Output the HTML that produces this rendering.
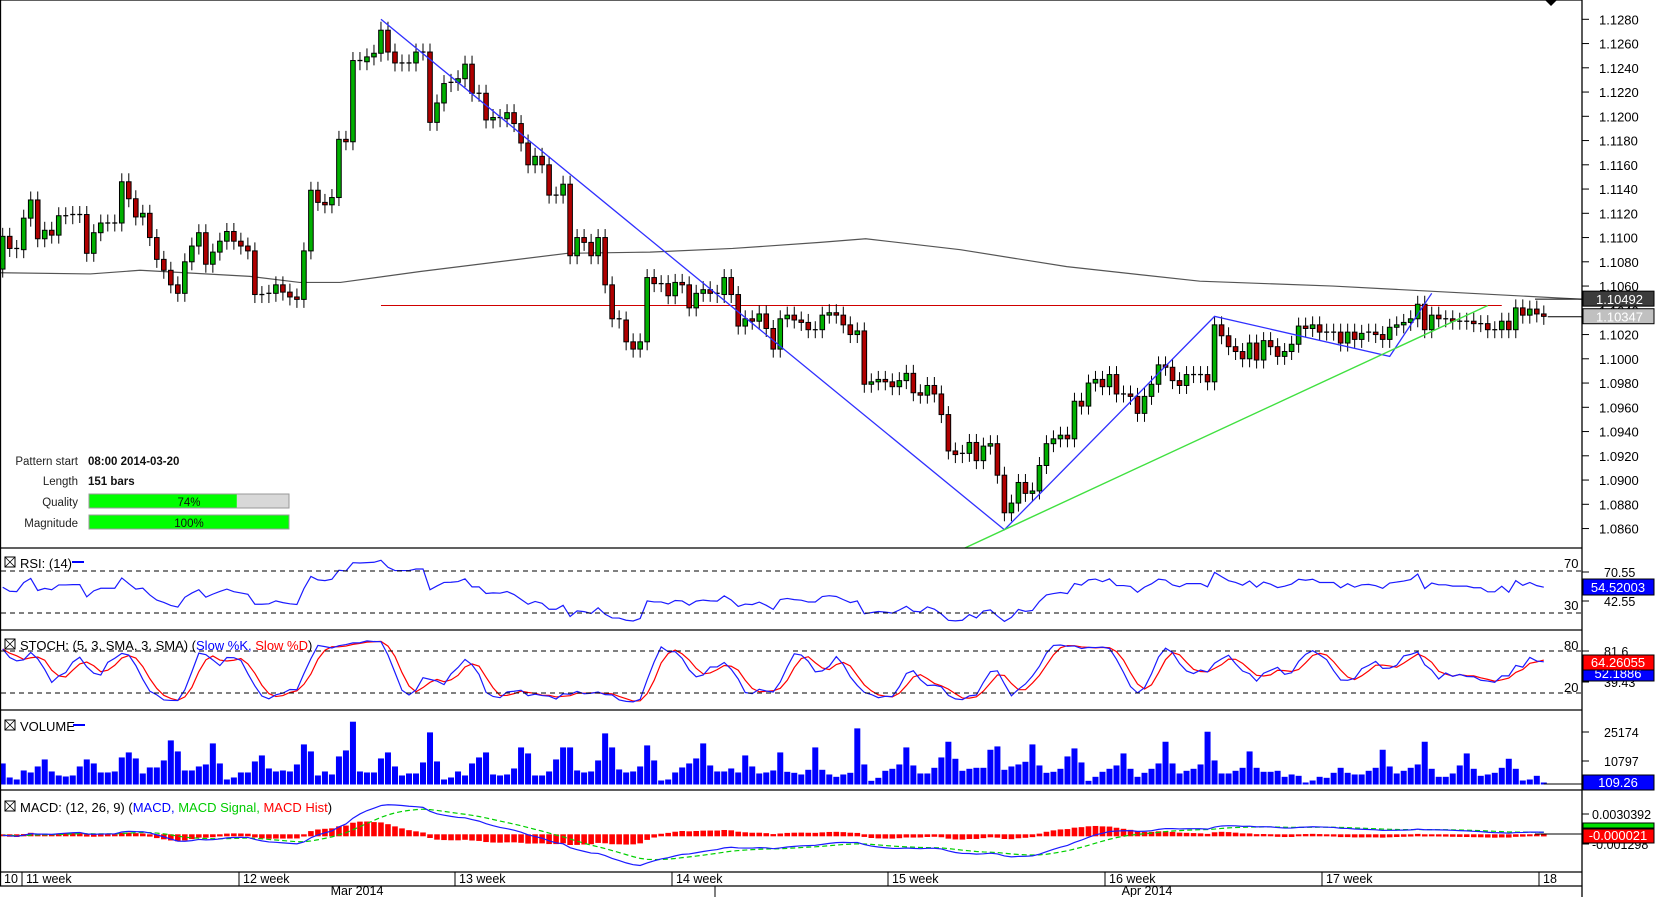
<!DOCTYPE html>
<html><head><meta charset="utf-8"><style>
html,body{margin:0;padding:0;background:#fff;}
svg{display:block;font-family:"Liberation Sans",Arial,sans-serif;}
</style></head><body>
<svg id="chart" width="1655" height="897" viewBox="0 0 1655 897" xmlns="http://www.w3.org/2000/svg">
<defs><clipPath id="mainClip"><rect x="1" y="1" width="1581" height="547"/></clipPath>
<clipPath id="plotClip"><rect x="1" y="0" width="1581" height="897"/></clipPath></defs>
<rect x="0" y="0" width="1655" height="897" fill="#fff"/>
<g id="main"></g>
<g id="ind"></g>
<g id="frame"></g>
</svg>
<script>
const closes=[1.1101,1.1091,1.1090,1.1116,1.1131,1.1099,1.1106,1.1102,1.1118,1.1118,
1.1119,1.1119,1.1087,1.1104,1.1112,1.1112,1.1112,1.1146,1.1132,1.1117,
1.1120,1.1100,1.1082,1.1073,1.1061,1.1054,1.1080,1.1093,1.1104,1.1078,
1.1088,1.1097,1.1105,1.1097,1.1093,1.1089,1.1053,1.1053,1.1054,1.1061,
1.1055,1.1051,1.1049,1.1089,1.1139,1.1129,1.1127,1.1133,1.1181,1.1179,
1.1246,1.1245,1.1249,1.1252,1.1271,1.1253,1.1244,1.1244,1.1244,1.1253,
1.1253,1.1195,1.1211,1.1227,1.1228,1.1231,1.1243,1.1219,1.1219,1.1197,
1.1199,1.1198,1.1203,1.1194,1.1178,1.1160,1.1167,1.1160,1.1135,1.1135,
1.1144,1.1085,1.1100,1.1096,1.1085,1.1100,1.1061,1.1033,1.1032,1.1014,
1.1008,1.1014,1.1067,1.1062,1.1062,1.1052,1.1063,1.1061,1.1042,1.1054,
1.1057,1.1054,1.1053,1.1067,1.1053,1.1027,1.1033,1.1031,1.1037,1.1025,
1.1008,1.1033,1.1036,1.1032,1.1030,1.1024,1.1024,1.1036,1.1038,1.1036,
1.1028,1.1020,1.1023,1.0979,1.0981,1.0983,1.0981,1.0977,1.0982,1.0988,
1.0972,1.0970,1.0978,1.0971,1.0954,1.0924,1.0921,1.0922,1.0931,1.0916,
1.0928,1.0930,1.0904,1.0873,1.0881,1.0898,1.0889,1.0891,1.0912,1.0930,
1.0934,1.0937,1.0934,1.0965,1.0961,1.0980,1.0983,1.0977,1.0987,1.0971,
1.0971,1.0969,1.0955,1.0969,1.0979,1.0995,1.0993,1.0982,1.0978,1.0987,
1.0987,1.0987,1.0981,1.1028,1.1019,1.1010,1.1006,1.1000,1.1013,1.0999,
1.1015,1.1010,1.1002,1.1006,1.1012,1.1027,1.1025,1.1028,1.1022,1.1022,
1.1022,1.1013,1.1022,1.1016,1.1021,1.1022,1.1020,1.1016,1.1026,1.1028,
1.1030,1.1033,1.1045,1.1024,1.1036,1.1033,1.1033,1.1031,1.1031,1.1031,
1.1029,1.1029,1.1024,1.1024,1.1031,1.1024,1.1042,1.1036,1.1041,1.1037,1.1035];
const firstOpen=1.1074;
const volumes=[10080,3360,2400,6720,5760,8640,12000,6240,4320,3840,
4320,8640,12000,10080,5760,5760,6240,12960,15360,12480,
5280,8160,8160,11520,21120,15840,6720,6720,8640,9600,
19680,10080,2400,3360,5760,5760,11040,13920,7680,6240,
6720,6240,9600,19200,15840,4320,6240,4800,13440,16320,
30080,6240,5760,5760,12480,15360,8640,4320,5280,5280,
10560,24960,11040,2400,3360,6240,4320,10080,12960,15360,
4800,4320,4800,7680,17760,14880,4320,4320,6240,12000,
17760,17760,6720,5760,6240,11520,24480,17760,7200,5760,
6240,8640,18720,11520,1920,2400,5760,8160,10080,12480,
19680,9120,6240,6240,7680,5760,13920,8640,5280,5760,
6720,15360,
6080,5600,4800,7040,17760,7040,4800,3680,4800,5600,
26880,9600,1760,3200,6560,7520,9600,17760,9120,5280,
5280,8000,12960,20480,12320,6560,7520,8000,8000,16640,
18240,7040,8640,9600,10880,19200,9120,5600,6080,7520,
13440,17280,10560,1760,3680,6080,7520,9120,14880,7520,
3680,5600,7520,10080,20480,10080,5280,6560,7520,9600,
25280,11520,5280,5280,6560,8000,15840,8000,6080,6080,
6560,3680,4800,4160,960,1920,3680,3200,5600,8000,
5600,4800,4800,6560,8000,16640,8640,5280,6560,8000,
9600,20480,7520,3680,3680,5280,9120,14880,7520,4160,
4800,5600,8000,12320,7520,1920,2400,4160,960];
const maIdx=[-1,12.5,19.6,35.3,42.4,48.2,59.6,80.6,92.4,104.2,116.7,123.2,136.7,151.9,170.9,189.9,226];
const maVal=[1.1071,1.1070,1.1073,1.1068,1.1063,1.1063,1.1072,1.1087,1.1088,1.1091,1.1096,1.1099,1.1090,1.1076,1.1064,1.1060,1.1049];
const zigIdx=[54,143,173,198,204];
const zigVal=[1.1280,1.0859,1.1035,1.1002,1.1054];
const trendIdx=[137,212];
const trendVal=[1.0843,1.1044];
const resistIdx=[54,214];
const resistVal=[1.1044,1.1044];
const priceTicks=[1.1280,1.1260,1.1240,1.1220,1.1200,1.1180,1.1160,1.1140,1.1120,1.1100,1.1080,1.1060,1.1040,1.1020,1.1000,1.0980,1.0960,1.0940,1.0920,1.0900,1.0880,1.0860];
const weekLabels=["10","11 week","12 week","13 week","14 week","15 week","16 week","17 week","18"];
const weekX=[0,22,239,455,672,888,1105,1322,1539];
const monthLabels=["Mar 2014","Apr 2014"];
const monthX=[357,1147];

const NS="http://www.w3.org/2000/svg";
function el(tag,attrs,parent,txt){const e=document.createElementNS(NS,tag);for(const k in attrs)e.setAttribute(k,attrs[k]);if(txt!==undefined)e.textContent=txt;parent.appendChild(e);return e;}
const X=i=>2.7+i*7.005;
const PY=p=>19.3+(1.1280-p)*12125;
const main=document.getElementById('main');
const ind=document.getElementById('ind');
const frame=document.getElementById('frame');
const mg=el('g',{'clip-path':'url(#mainClip)'},main);

priceTicks.forEach(p=>{const y=PY(p);
 const t=el('line',{x1:1582,x2:1589,y1:y,y2:y,stroke:'#000'},frame);
 
 
 const l=el('text',{x:1599,y:y+5,'font-size':13,fill:'#000'},frame,p.toFixed(4));
 
 
});

{let pts=maIdx.map((i,k)=>X(i)+','+PY(maVal[k])).join(' ');
 const m=el('polyline',{points:pts,fill:'none',stroke:'#555',"stroke-width":1.2},mg);
 
 }
{const r=el('line',{x1:X(resistIdx[0]),x2:X(resistIdx[1]),y1:PY(resistVal[0]),y2:PY(resistVal[1]),stroke:'#d00000','stroke-width':1},mg);
 
 }

const opens=[],highs=[],lows=[];
closes.forEach((c,i)=>{const o=i===0?firstOpen:closes[i-1];opens.push(o);highs.push(Math.max(o,c)+0.0007);lows.push(Math.min(o,c)-0.0007);});
closes.forEach((c,i)=>{const o=opens[i];const x=X(i);
 const g=el('g',{},mg);
 
 
 el('line',{x1:x,x2:x,y1:PY(highs[i]),y2:PY(lows[i]),stroke:'#000','stroke-width':1},g);
 const top=PY(Math.max(o,c)),bot=PY(Math.min(o,c));
 if(Math.abs(bot-top)<1.5){el('line',{x1:x-2.5,x2:x+2.5,y1:top,y2:top,stroke:'#000','stroke-width':1.3},g);}
 else el('rect',{x:x-2.3,y:top,width:4.6,height:bot-top,fill:c>=o?'#00b000':'#b00000',stroke:'#000','stroke-width':1},g);
});
{const pts=zigIdx.map((i,k)=>X(i)+','+PY(zigVal[k])).join(' ');
 const z=el('polyline',{points:pts,fill:'none',stroke:'#3030ff','stroke-width':1.3},mg);
 
 }
{const t=el('line',{x1:X(trendIdx[0]),x2:X(trendIdx[1]),y1:PY(trendVal[0]),y2:PY(trendVal[1]),stroke:'#40e040','stroke-width':1.4},mg);
 
 }
{const y1=PY(1.10492),y2=PY(1.10347);
 el('line',{x1:1535,x2:1582,y1:y1,y2:y1,stroke:'#000'},main);
 el('line',{x1:X(closes.length-1)+4,x2:1582,y1:y2,y2:y2,stroke:'#000'},main);
 const b1=el('g',{},frame);
 
 
 el('rect',{x:1583,y:y1-8,width:71,height:15,fill:'#3c3c3c',stroke:'#000'},b1);
 el('text',{x:1596,y:y1+5,'font-size':13,fill:'#fff'},b1,'1.10492');
 const b2=el('g',{},frame);
 
 
 el('rect',{x:1583,y:y2-8,width:71,height:15,fill:'#c0c0c0',stroke:'#000'},b2);
 el('text',{x:1596,y:y2+5,'font-size':13,fill:'#fff'},b2,'1.10347');}
{const m=el('polygon',{points:'1545,0 1557,0 1551,6',fill:'#000'},frame);
 
 }

{const g=el('g',{'font-size':11.5},main);
 
 
 const rows=[['Pattern start','08:00 2014-03-20',465],['Length','151 bars',485]];
 rows.forEach(r=>{el('text',{x:78,y:r[2],'text-anchor':'end',fill:'#222'},g,r[0]);el('text',{x:88,y:r[2],'font-weight':'bold',fill:'#111'},g,r[1]);});
 [['Quality',74,506],['Magnitude',100,527]].forEach(r=>{
  el('text',{x:78,y:r[2],'text-anchor':'end',fill:'#222'},g,r[0]);
  el('rect',{x:89,y:r[2]-12,width:200,height:14,fill:'#d8d8d8',stroke:'#999'},g);
  el('rect',{x:89.5,y:r[2]-11.5,width:199*r[1]/100,height:13,fill:'#00ff00'},g);
  el('text',{x:189,y:r[2],'text-anchor':'middle',fill:'#111'},g,r[1]+'%');
 });}

function titleBox(x,y,parent){el('rect',{x:x,y:y-10,width:10,height:10,fill:'none',stroke:'#000'},parent);el('path',{d:`M${x} ${y-10}L${x+10} ${y}M${x+10} ${y-10}L${x} ${y}`,stroke:'#000','stroke-width':0.8},parent);}
function dash(y,parent){el('line',{x1:1,x2:1582,y1:y,y2:y,stroke:'#000','stroke-dasharray':'5,4'},parent);}
const ig=el('g',{'clip-path':'url(#plotClip)'},ind);

// RSI (Wilder, seeded)
const rsi=[];{let ag=0.0006,al=0.0005;for(let i=0;i<closes.length;i++){const d=i?closes[i]-closes[i-1]:0;const g=Math.max(d,0),l=Math.max(-d,0);
 ag=(ag*13+g)/14;al=(al*13+l)/14;
 rsi.push(al===0?100:100-100/(1+ag/al));}}
const RY=v=>571+(70-v)*42/40;
dash(RY(70),ind);dash(RY(30),ind);
{const pts=rsi.map((v,i)=>X(i)+','+RY(v)).join(' ');
 const p=el('polyline',{points:pts,fill:'none',stroke:'#1a1aff','stroke-width':1.2},ig);
 
 }
{const g=el('g',{'font-size':13},ind);
 
 
 titleBox(5,567,g);el('text',{x:20,y:568},g,'RSI: (14)');el('line',{x1:72,x2:84,y1:562,y2:562,stroke:'#00f','stroke-width':2},g);
 el('text',{x:1564,y:568},g,'70');el('text',{x:1564,y:610},g,'30');}

const rawK=closes.map((c,i)=>{const s=Math.max(0,i-4);const hh=Math.max(...highs.slice(s,i+1)),ll=Math.min(...lows.slice(s,i+1));return 100*(c-ll)/(hh-ll);});
const sma=(a,n)=>a.map((v,i)=>{const s=a.slice(Math.max(0,i-n+1),i+1);return s.reduce((x,y)=>x+y,0)/s.length;});
const slowK=sma(rawK,3),slowD=sma(slowK,3);
const SY=v=>651+(80-v)*42/60;
dash(SY(80),ind);dash(SY(20),ind);
{const p1=el('polyline',{points:slowD.map((v,i)=>X(i)+','+SY(v)).join(' '),fill:'none',stroke:'#ff0000','stroke-width':1.2},ig);
 
 
 const p2=el('polyline',{points:slowK.map((v,i)=>X(i)+','+SY(v)).join(' '),fill:'none',stroke:'#1a1aff','stroke-width':1.2},ig);
 
 }
{const g=el('g',{'font-size':13},ind);
 
 
 titleBox(5,649,g);
 const t=el('text',{x:20,y:650},g);
 el('tspan',{},t,'STOCH: (5, 3, SMA, 3, SMA) (');el('tspan',{fill:'#0000ff'},t,'Slow %K, ');el('tspan',{fill:'#ff0000'},t,'Slow %D');el('tspan',{},t,')');
 el('text',{x:1564,y:650},g,'80');el('text',{x:1564,y:692},g,'20');}

const VY=v=>784.5-v/479;
volumes.slice(0,closes.length).forEach((v,i)=>{const r=el('rect',{x:X(i)-3,y:VY(v),width:6,height:784.5-VY(v),fill:'#0000ff'},ig);
 
 });
el('line',{x1:X(closes.length-1),x2:1582,y1:784,y2:784,stroke:'#000'},ind);
{const g=el('g',{'font-size':13},ind);
 
 
 titleBox(5,730,g);el('text',{x:20,y:731},g,'VOLUME');el('line',{x1:73,x2:85,y1:725,y2:725,stroke:'#00f','stroke-width':2},g);}

const ema=(a,n)=>{const k=2/(n+1);const o=[];a.forEach((v,i)=>o.push(i?v*k+o[i-1]*(1-k):v));return o;};
const e12=ema(closes,12),e26=ema(closes,26);
const macd=e12.map((v,i)=>v-e26[i]);
const signal=ema(macd,9);
const hist=macd.map((v,i)=>v-signal[i]);
const MY=v=>835.3-v*6687;
hist.forEach((h,i)=>{const y0=MY(0),y1=MY(h);const r=el('rect',{x:X(i)-2.8,y:Math.min(y0,y1)-1,width:5.6,height:Math.abs(y1-y0)+2,fill:'#ff0000'},ig);
 
 });
{const s=el('polyline',{points:signal.map((v,i)=>X(i)+','+MY(v)).join(' '),fill:'none',stroke:'#00d000','stroke-width':1.2,'stroke-dasharray':'5,3'},ig);
 
 
 const m=el('polyline',{points:macd.map((v,i)=>X(i)+','+MY(v)).join(' '),fill:'none',stroke:'#1a1aff','stroke-width':1.2},ig);
 
 }
el('line',{x1:1535,x2:1582,y1:834,y2:834,stroke:'#000'},ind);
{const g=el('g',{'font-size':13},ind);
 
 
 titleBox(5,811,g);
 const t=el('text',{x:20,y:812},g);
 el('tspan',{},t,'MACD: (12, 26, 9) (');el('tspan',{fill:'#0000ff'},t,'MACD, ');el('tspan',{fill:'#00cc00'},t,'MACD Signal, ');el('tspan',{fill:'#ff0000'},t,'MACD Hist');el('tspan',{},t,')');}

function rlabel(txt,y,name,x){const t=el('text',{x:x||1604,y:y,'font-size':12.5},frame,txt);
 el('line',{x1:1582,x2:1589,y1:y-5,y2:y-5,stroke:'#000'},frame);}
rlabel('70.55',577,'rsi-axis-high');rlabel('42.55',606,'rsi-axis-low');
rlabel('81.6',656,'stoch-axis-high');rlabel('39.43',687,'stoch-axis-low');
rlabel('25174',737,'volume-axis-high');rlabel('10797',766,'volume-axis-low');
rlabel('0.0030392',819,'macd-axis-high',1592);rlabel('-0.001298',849,'macd-axis-low',1592);
function vbox(txt,y,h,bg,name){const g=el('g',{},frame);
 el('rect',{x:1583,y:y,width:71,height:h,fill:bg,stroke:'#000'},g);el('text',{x:1618,y:y+h-3,'font-size':13,fill:'#fff','text-anchor':'middle'},g,txt);}
vbox('54.52003',579,16,'#0000ff','rsi-value-label');
vbox('52.1886',669,12,'#0000ff','stoch-d-value-label');
vbox('64.26055',655,15,'#ff0000','stoch-k-value-label');
vbox('109.26',775,15,'#0000ff','volume-value-label');
{const g=el('rect',{x:1583,y:823,width:71,height:5,fill:'#00e000',stroke:'#000'},frame);}
vbox('-0.000021',829,14,'#ff0000','macd-value-label');

[[0,0,1582,0],[0.5,0,0.5,886],[1582,0,1582,897],[0,548,1582,548],[0,630,1582,630],[0,710,1582,710],[0,790,1582,790],[0,872,1582,872],[0,886,1582,886]].forEach(l=>el('line',{x1:l[0],y1:l[1],x2:l[2],y2:l[3],stroke:'#000','stroke-width':1.3},frame));
weekLabels.forEach((w,k)=>{const x=weekX[k];
 if(k>0)el('line',{x1:x,x2:x,y1:872,y2:886,stroke:'#000'},frame);
 const t=el('text',{x:x+4,y:883,'font-size':12.5},frame,w);
 
 });
monthLabels.forEach((m,k)=>{const t=el('text',{x:monthX[k],y:895,'font-size':12.5,'text-anchor':'middle'},frame,m);
 
 });
el('line',{x1:715,x2:715,y1:886,y2:897,stroke:'#000'},frame);
</script>
</body></html>
